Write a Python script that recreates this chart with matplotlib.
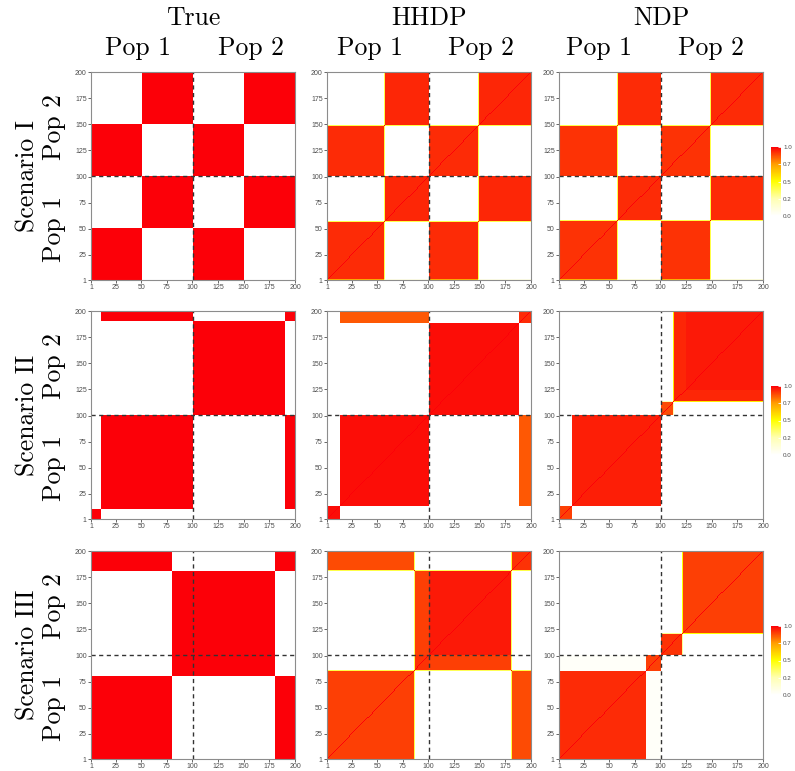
#!/usr/bin/env python3
"""Posterior co-clustering heatmaps: true partition vs HHDP vs NDP, three scenarios."""

import matplotlib
matplotlib.use("Agg")
import matplotlib.pyplot as plt
import numpy as np
from matplotlib.colors import LinearSegmentedColormap

N_OBS = 200

# Each partition: segment right ends (1-based, inclusive), group of each
# segment, and the co-clustering probability between groups.
true_1_ends = [50, 100, 150, 200]
true_1_groups = [0, 1, 0, 1]
true_1_probs = [[1, 0],
                [0, 1]]

hhdp_1_ends = [1, 56, 57, 100, 148, 149, 200]
hhdp_1_groups = [2, 0, 3, 1, 0, 3, 1]
hhdp_1_probs = [[0.93, 0.00, 0.72, 0.40],
                [0.00, 0.94, 0.08, 0.40],
                [0.72, 0.08, 1.00, 0.30],
                [0.40, 0.40, 0.30, 1.00]]

ndp_1_ends = [1, 57, 58, 100, 148, 149, 200]
ndp_1_groups = [2, 0, 3, 1, 0, 3, 1]
ndp_1_probs = [[0.92, 0.00, 0.70, 0.40],
               [0.00, 0.93, 0.12, 0.40],
               [0.70, 0.12, 1.00, 0.30],
               [0.40, 0.40, 0.30, 1.00]]

true_2_ends = [10, 100, 190, 200]
true_2_groups = [0, 1, 2, 1]
true_2_probs = [[1, 0, 0],
                [0, 1, 0],
                [0, 0, 1]]

hhdp_2_ends = [13, 100, 188, 200]
hhdp_2_groups = [0, 1, 2, 3]
hhdp_2_probs = [[0.98, 0.00, 0.00, 0.00],
                [0.00, 0.98, 0.00, 0.86],
                [0.00, 0.00, 0.98, 0.00],
                [0.00, 0.86, 0.00, 0.93]]

ndp_2_ends = [13, 100, 112, 113, 124, 200]
ndp_2_groups = [0, 1, 2, 5, 3, 4]
ndp_2_probs = [[0.90, 0.00, 0.00, 0.00, 0.00, 0.00],
               [0.00, 0.95, 0.00, 0.00, 0.00, 0.00],
               [0.00, 0.00, 0.88, 0.00, 0.00, 0.25],
               [0.00, 0.00, 0.00, 0.94, 0.94, 0.55],
               [0.00, 0.00, 0.00, 0.94, 0.96, 0.55],
               [0.00, 0.00, 0.25, 0.55, 0.55, 1.00]]

true_3_ends = [80, 180, 200]
true_3_groups = [0, 1, 0]
true_3_probs = [[1, 0],
                [0, 1]]

hhdp_3_ends = [85, 86, 100, 180, 181, 200]
hhdp_3_groups = [0, 4, 1, 2, 4, 3]
hhdp_3_probs = [[0.90, 0.00, 0.00, 0.88, 0.40],
                [0.00, 0.92, 0.90, 0.00, 0.40],
                [0.00, 0.90, 0.96, 0.00, 0.38],
                [0.88, 0.00, 0.00, 0.92, 0.40],
                [0.40, 0.40, 0.38, 0.40, 1.00]]

ndp_3_ends = [85, 100, 120, 121, 200]
ndp_3_groups = [0, 1, 2, 4, 3]
ndp_3_probs = [[0.93, 0.02, 0.00, 0.00, 0.00],
               [0.02, 0.90, 0.00, 0.00, 0.00],
               [0.00, 0.00, 0.92, 0.00, 0.30],
               [0.00, 0.00, 0.00, 0.90, 0.50],
               [0.00, 0.00, 0.30, 0.50, 1.00]]

methods = ["True", "HHDP", "NDP"]
scenarios = ["Scenario I", "Scenario II", "Scenario III"]
pop_labels = ["Pop 1", "Pop 2"]
axis_ticks = [1, 25, 50, 75, 100, 125, 150, 175, 200]
cbar_ticks = [0.0, 0.25, 0.5, 0.75, 1.0]
cbar_labels = ["0.0", "0.2", "0.5", "0.7", "1.0"]

partitions = [
    [(true_1_ends, true_1_groups, true_1_probs),
     (hhdp_1_ends, hhdp_1_groups, hhdp_1_probs),
     (ndp_1_ends, ndp_1_groups, ndp_1_probs)],
    [(true_2_ends, true_2_groups, true_2_probs),
     (hhdp_2_ends, hhdp_2_groups, hhdp_2_probs),
     (ndp_2_ends, ndp_2_groups, ndp_2_probs)],
    [(true_3_ends, true_3_groups, true_3_probs),
     (hhdp_3_ends, hhdp_3_groups, hhdp_3_probs),
     (ndp_3_ends, ndp_3_groups, ndp_3_probs)],
]

# figure geometry in pixels
W, H = 795, 771
COL_X = [91, 327, 559]
ROW_Y = [72, 311, 551]
AX_W, AX_H = 204, 208
POP_X = [(138, 251), (370, 481), (599, 711)]

SERIF = "cmr10"
TICK_COLOR = "#4d4d4d"
TICK_FONT = "Liberation Sans"


def px_rect(x, y, w, h):
    return [x / W, 1 - (y + h) / H, w / W, h / H]


def coclustering(ends, groups, probs):
    sizes = np.diff([0] + list(ends))
    labels = np.repeat(groups, sizes)
    p = np.asarray(probs, dtype=float)
    mat = p[np.ix_(labels, labels)]
    np.fill_diagonal(mat, 1.0)
    return mat


def draw_panel(ax, mat, cmap):
    edges = np.arange(N_OBS + 1) + 0.5
    im = ax.pcolormesh(edges, edges, mat, cmap=cmap, vmin=0, vmax=1,
                       shading="flat", rasterized=True)
    ax.set_xlim(1, N_OBS)
    ax.set_ylim(1, N_OBS)
    ax.axhline(100.5, color="#333333", lw=1.0, ls=(0, (3, 2.5)))
    ax.axvline(100.5, color="#333333", lw=1.0, ls=(0, (3, 2.5)))
    ax.set_xticks(axis_ticks)
    ax.set_yticks(axis_ticks)
    ax.tick_params(labelsize=5, colors=TICK_COLOR, length=2, width=0.6, pad=1)
    for lab in ax.get_xticklabels() + ax.get_yticklabels():
        lab.set_family(TICK_FONT)
    for sp in ax.spines.values():
        sp.set_color("#8c8c8c")
        sp.set_linewidth(0.8)
    return im


def main():
    cmap = LinearSegmentedColormap.from_list(
        "heat", [(0.0, "#ffffff"), (0.25, "#ffffb3"), (0.5, "#ffff00"),
                 (0.75, "#ffa000"), (1.0, "#fc0008")])

    fig = plt.figure(figsize=(W / 100, H / 100), dpi=100)

    for r, row in enumerate(partitions):
        im = None
        for c, (ends, groups, probs) in enumerate(row):
            ax = fig.add_axes(px_rect(COL_X[c], ROW_Y[r], AX_W, AX_H))
            im = draw_panel(ax, coclustering(ends, groups, probs), cmap)

        cax = fig.add_axes(px_rect(771, ROW_Y[r] + 75, 10, 69))
        cb = fig.colorbar(im, cax=cax)
        cb.outline.set_visible(False)
        cb.set_ticks(cbar_ticks)
        cb.set_ticklabels(cbar_labels)
        cax.tick_params(labelsize=4.5, color="white", labelcolor=TICK_COLOR,
                        direction="in", length=2, width=0.6, pad=1.5)
        for lab in cax.get_yticklabels():
            lab.set_family(TICK_FONT)

        # row labels
        fig.text(28 / W, 1 - (ROW_Y[r] + AX_H / 2) / H, scenarios[r],
                 rotation=90, ha="center", va="center", fontsize=18.5, family=SERIF)
        fig.text(54 / W, 1 - (ROW_Y[r] + 55) / H, pop_labels[1],
                 rotation=90, ha="center", va="center", fontsize=18.5, family=SERIF)
        fig.text(54 / W, 1 - (ROW_Y[r] + 157) / H, pop_labels[0],
                 rotation=90, ha="center", va="center", fontsize=18.5, family=SERIF)

    for c, name in enumerate(methods):
        fig.text((COL_X[c] + AX_W / 2) / W, 1 - 18 / H, name,
                 ha="center", va="center", fontsize=18.5, family=SERIF)
        for k in range(2):
            fig.text(POP_X[c][k] / W, 1 - 48 / H, pop_labels[k],
                     ha="center", va="center", fontsize=18.5, family=SERIF)

    fig.savefig("out.png", dpi=100)
    plt.close(fig)


if __name__ == "__main__":
    main()
